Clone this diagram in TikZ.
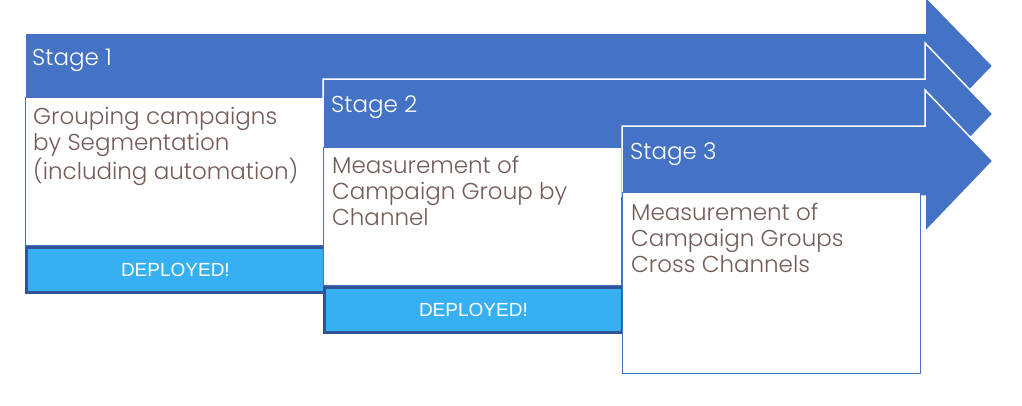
\documentclass[tikz,border=0pt]{standalone}
\usepackage{fontspec}
\setmainfont{Poppins}[UprightFont=* Light]
\newfontfamily\arialf{Liberation Sans}
\definecolor{arrowblue}{RGB}{68,114,196}
\definecolor{depfill}{RGB}{54,176,242}
\definecolor{depborder}{RGB}{47,85,151}
\definecolor{bodygray}{RGB}{115,92,88}
\tikzset{
  arrowshape/.style={fill=arrowblue, draw=white, line width=1.5pt, line join=miter},
  textbox/.style={draw=arrowblue, fill=white, line width=1.3pt, inner sep=0pt, minimum width=298pt, anchor=north west},
  stagetext/.style={text=white, font=\fontsize{23}{26}\selectfont, anchor=west, inner sep=0pt},
  bodytext/.style={text=bodygray, font=\fontsize{23}{26}\selectfont, anchor=north west, inner sep=0pt, align=left},
  deployed/.style={draw=depborder, fill=depfill, line width=2.8pt, minimum width=298pt, minimum height=45pt, anchor=north west, inner sep=0pt, text=white, font=\arialf\fontsize{19}{21}\selectfont}
}
\begin{document}
\begin{tikzpicture}[x=1pt,y=-1pt]
\useasboundingbox (0,0) rectangle (1022,405);
\fill[white] (0,0) rectangle (1022,405);
% Stage 1
\draw[arrowshape] (25,33) -- (925,33) -- (925,-4) -- (993,66) -- (925,136) -- (925,99) -- (25,99) -- cycle;
\node[textbox, minimum height=148pt] (b1) at (25,97) {};
\node[deployed] (d1) at (25,246) {DEPLOYED!};
\node[stagetext] (s1) at (32,60) {Stage 1};
\node[bodytext] (t1) at (33,107) {Grouping campaigns\\by Segmentation\\(including automation)};
% Stage 2
\draw[arrowshape] (323,79) -- (925,79) -- (925,43) -- (993,114) -- (925,185) -- (925,149) -- (323,149) -- cycle;
\node[textbox, minimum height=138pt] (b2) at (323,147) {};
\node[deployed] (d2) at (323,286) {DEPLOYED!};
\node[stagetext] (s2) at (331,107) {Stage 2};
\node[bodytext] (t2) at (332,156) {Measurement of\\Campaign Group by\\Channel};
% Stage 3
\draw[arrowshape] (622,126) -- (925,126) -- (925,90) -- (993,161) -- (925,232) -- (925,196) -- (622,196) -- cycle;
\node[textbox, minimum height=181pt] (b3) at (622,192) {};
\node[stagetext] (s3) at (630,154) {Stage 3};
\node[bodytext] (t3) at (631,203) {Measurement of\\Campaign Groups\\Cross Channels};
\end{tikzpicture}
\end{document}
